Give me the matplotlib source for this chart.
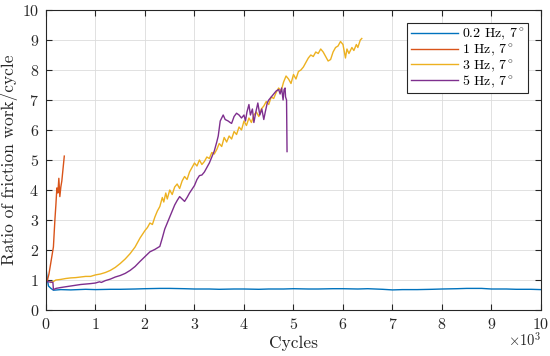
import matplotlib
matplotlib.use("Agg")
import matplotlib.pyplot as plt

# fonts: computer modern look, like a MATLAB/LaTeX figure
plt.rcParams["font.family"] = ["cmr10", "DejaVu Serif"]
plt.rcParams["mathtext.fontset"] = "cm"
plt.rcParams["axes.formatter.use_mathtext"] = True

# data (x in cycles)
blue_x = [0, 20, 50, 100, 150, 300, 500, 800, 1000, 1300, 1500, 1800, 2000, 2300, 2500,
          2800, 3000, 3300, 3500, 3800, 4000, 4300, 4500, 4800, 5000, 5300, 5500, 5800,
          6000, 6300, 6500, 6800, 7000, 7200, 7500, 7800, 8000, 8300, 8500, 8800, 9000,
          9300, 9500, 9800, 10000]
blue_y = [1.40, 1.10, 0.80, 0.72, 0.66, 0.68, 0.67, 0.69, 0.68, 0.69, 0.69, 0.70, 0.71,
          0.72, 0.72, 0.71, 0.70, 0.70, 0.69, 0.70, 0.70, 0.69, 0.70, 0.70, 0.71, 0.70,
          0.70, 0.71, 0.71, 0.70, 0.71, 0.69, 0.67, 0.68, 0.68, 0.69, 0.70, 0.71, 0.72,
          0.72, 0.70, 0.70, 0.69, 0.69, 0.68]

orange_x = [0, 30, 60, 90, 120, 150, 180, 200, 220, 240, 260, 280, 300, 320, 350, 370]
orange_y = [0.92, 1.00, 1.20, 1.50, 1.80, 2.10, 3.00, 3.50, 4.07, 3.90, 4.39, 3.78,
            4.10, 4.30, 4.80, 5.13]

yellow_x = [100, 150, 200, 300, 400, 500, 600, 700, 800, 900, 1000, 1100, 1200, 1300,
            1400, 1500, 1600, 1700, 1800, 1900, 2000, 2050, 2100, 2150, 2200, 2250, 2300,
            2350, 2380, 2420, 2450, 2500, 2550, 2600, 2650, 2700, 2750, 2800, 2850, 2900,
            2950, 3000, 3050, 3100, 3150, 3200, 3250, 3300, 3350, 3400, 3450, 3500, 3550,
            3600, 3650, 3700, 3750, 3800, 3850, 3900, 3950, 4000, 4050, 4100, 4150, 4200,
            4250, 4300, 4350, 4400, 4450, 4500, 4550, 4600, 4650, 4700, 4750, 4800, 4850,
            4900, 4950, 5000, 5050, 5100, 5150, 5200, 5250, 5300, 5350, 5400, 5450, 5500,
            5550, 5600, 5650, 5700, 5750, 5800, 5850, 5900, 5950, 6000, 6050, 6080, 6120,
            6180, 6220, 6270, 6300, 6350, 6380]
yellow_y = [0.92, 0.95, 1.00, 1.02, 1.05, 1.07, 1.08, 1.10, 1.12, 1.12, 1.17, 1.20,
            1.25, 1.32, 1.42, 1.55, 1.70, 1.88, 2.10, 2.40, 2.65, 2.75, 2.90, 2.85, 3.10,
            3.30, 3.45, 3.75, 3.60, 3.90, 3.70, 4.00, 3.85, 4.10, 4.20, 4.05, 4.30, 4.45,
            4.35, 4.60, 4.75, 4.90, 4.80, 5.00, 4.85, 4.95, 5.10, 5.05, 5.25, 5.20, 5.35,
            5.55, 5.45, 5.75, 5.60, 5.80, 5.70, 5.95, 5.85, 6.10, 6.00, 6.30, 6.15, 6.40,
            6.25, 6.50, 6.60, 6.45, 6.70, 6.80, 6.95, 6.85, 7.10, 7.05, 7.25, 7.40, 7.30,
            7.60, 7.80, 7.70, 7.55, 7.85, 7.70, 7.95, 8.00, 8.10, 8.25, 8.40, 8.50, 8.45,
            8.60, 8.55, 8.70, 8.60, 8.45, 8.30, 8.35, 8.60, 8.75, 8.80, 8.95, 8.85, 8.40,
            8.70, 8.55, 8.75, 8.65, 8.85, 8.75, 9.00, 9.05]

purple_x = [0, 100, 140, 150, 200, 300, 500, 700, 900, 1000, 1080, 1120, 1200, 1300,
            1400, 1500, 1600, 1700, 1800, 1900, 2000, 2100, 2200, 2300, 2350, 2400, 2450,
            2500, 2550, 2600, 2650, 2700, 2750, 2800, 2850, 2900, 3000, 3050, 3100, 3150,
            3200, 3250, 3300, 3350, 3400, 3450, 3480, 3520, 3550, 3580, 3620, 3680, 3720,
            3750, 3800, 3850, 3900, 3950, 4000, 4030, 4060, 4100, 4130, 4170, 4200, 4240,
            4280, 4320, 4360, 4400, 4430, 4470, 4500, 4550, 4600, 4650, 4700, 4730, 4760,
            4790, 4810, 4830, 4840, 4860, 4870]
purple_y = [0.95, 0.93, 0.92, 0.68, 0.72, 0.75, 0.80, 0.85, 0.88, 0.90, 0.94, 0.92,
            0.98, 1.03, 1.10, 1.15, 1.22, 1.32, 1.45, 1.62, 1.78, 1.94, 2.02, 2.12, 2.40,
            2.70, 2.90, 3.10, 3.30, 3.50, 3.65, 3.78, 3.70, 3.62, 3.75, 3.90, 4.15, 4.35,
            4.48, 4.50, 4.60, 4.75, 4.90, 5.10, 5.30, 5.60, 5.80, 6.30, 6.40, 6.50, 6.35,
            6.30, 6.25, 6.22, 6.45, 6.56, 6.50, 6.40, 6.50, 6.30, 6.60, 6.85, 6.50, 6.70,
            6.25, 6.60, 6.90, 6.50, 6.70, 6.35, 6.60, 6.90, 7.00, 7.10, 7.20, 7.30, 7.35,
            7.20, 7.40, 7.00, 7.35, 7.40, 7.10, 7.00, 5.28]

labels = [r"0.2 Hz, 7$^\circ$", r"1 Hz, 7$^\circ$", r"3 Hz, 7$^\circ$", r"5 Hz, 7$^\circ$"]
colors = ["#0072BD", "#D95319", "#EDB120", "#7E2F8E"]

fig = plt.figure(figsize=(5.5, 3.56), dpi=100)
ax = fig.add_axes([0.0836, 0.1292, 0.9, 0.8427])

series = [(blue_x, blue_y), (orange_x, orange_y), (yellow_x, yellow_y), (purple_x, purple_y)]
for (x, y), c, lab in zip(series, colors, labels):
    ax.plot(x, y, color=c, lw=1.0, label=lab)

ax.set_xlim(0, 10000)
ax.set_ylim(0, 10)
ax.set_xticks(range(0, 10001, 1000))
ax.set_yticks(range(0, 11))
ax.ticklabel_format(axis="x", style="sci", scilimits=(3, 3), useMathText=True)
ax.xaxis.get_offset_text().set_visible(False)
ax.text(1.0, -0.1, r"$\times10^3$", transform=ax.transAxes, ha="right", va="center",
        fontsize=10.5, color="#262626")

ax.grid(True, color="#dcdcdc", lw=0.6)
ax.set_axisbelow(True)
ax.tick_params(direction="in", top=True, right=True, length=4, width=0.8, pad=5,
               labelsize=11.5, colors="#262626", labelcolor="#262626")
for s in ax.spines.values():
    s.set_color("#262626")
    s.set_linewidth(0.8)

ax.set_xlabel("Cycles", fontsize=12.5, color="#262626", labelpad=3)
ax.set_ylabel("Ratio of friction work/cycle", fontsize=12.5, color="#262626", labelpad=3)

leg = ax.legend(loc="upper right", fontsize=10, frameon=True, fancybox=False,
                edgecolor="#262626", framealpha=1, handlelength=3.4,
                borderaxespad=0.9, labelspacing=-0.05, handletextpad=0.3,
                borderpad=0.25)
leg.get_frame().set_linewidth(0.8)

fig.savefig("out.png", dpi=100)
